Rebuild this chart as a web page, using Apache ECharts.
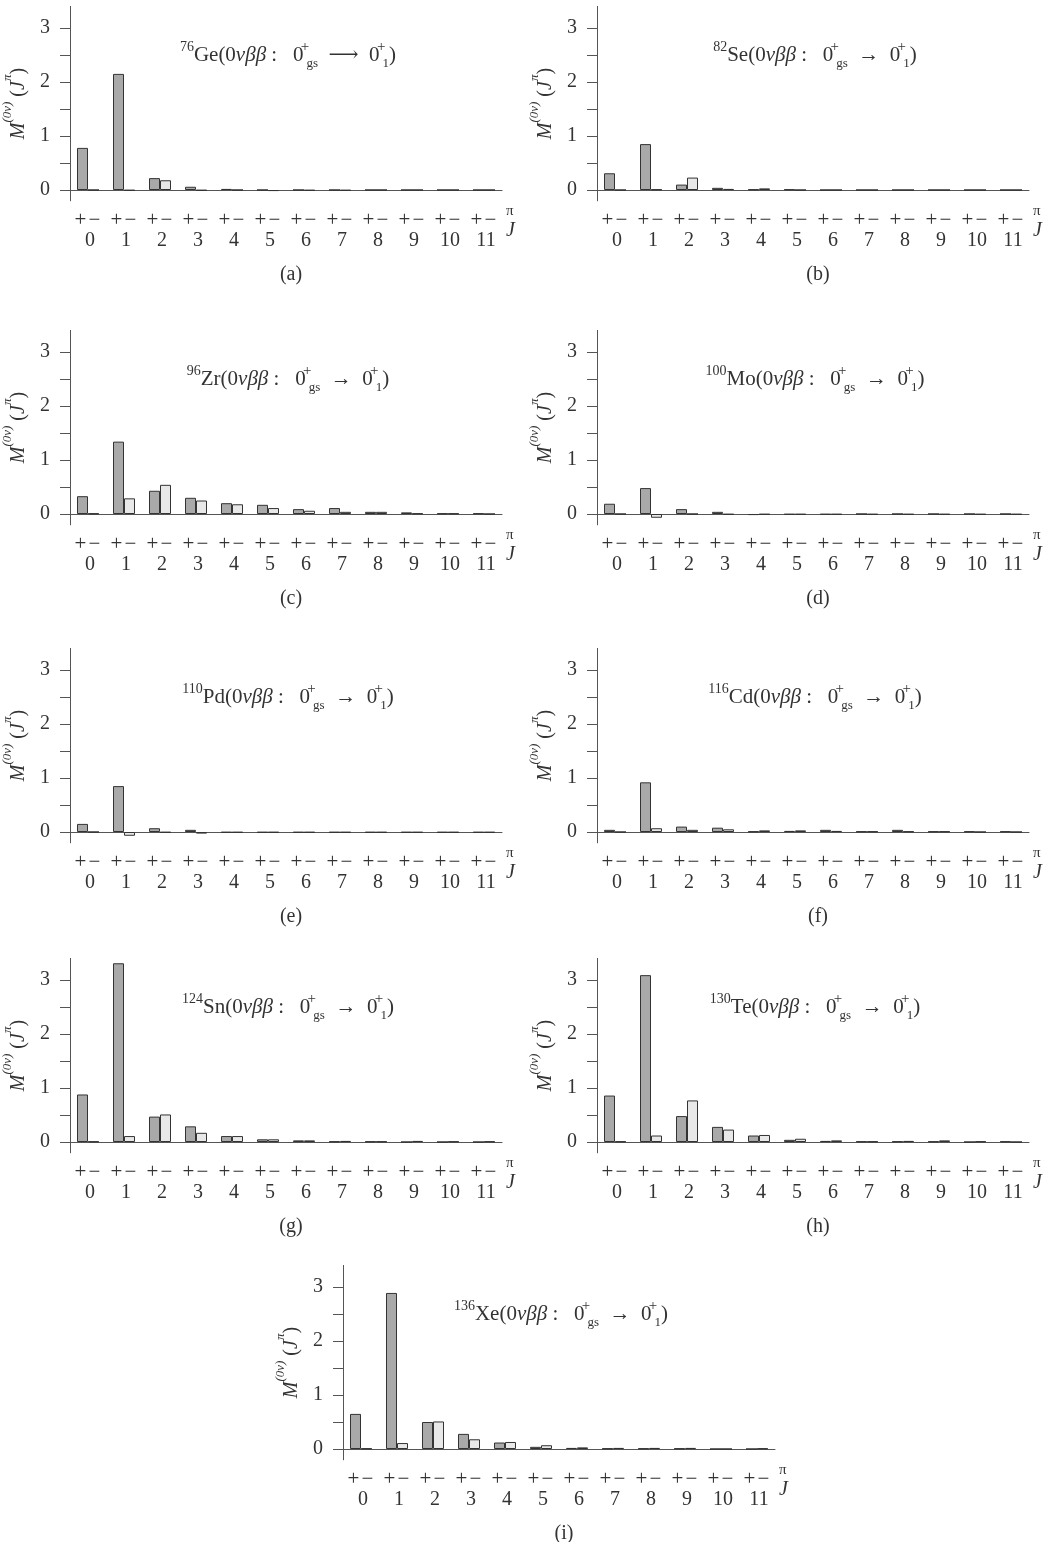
<!DOCTYPE html>
<html>
<head>
<meta charset="utf-8">
<script src="https://cdn.jsdelivr.net/npm/echarts@6/dist/echarts.min.js"></script>
<style>
  html, body { margin: 0; padding: 0; background: #fff; }
  #chart { width: 1057px; height: 1542px; }
</style>
</head>
<body>
<div id="chart"></div>
<script>
// multipolarity J and the two parities
const jValues = ['0', '1', '2', '3', '4', '5', '6', '7', '8', '9', '10', '11'];
const yTicks = [0, 0.5, 1, 1.5, 2, 2.5, 3];
const yLabels = [0, 1, 2, 3];

// M^(0v)(J^pi), positive parity / negative parity
const ge76Plus  = [0.78, 2.15, 0.22, 0.06, 0.02, 0.00, 0.00, 0.00, 0.00, 0.00, 0.00, 0.00];
const ge76Minus = [0.00, -0.01, 0.18, -0.01, 0.00, -0.02, -0.01, -0.01, 0.00, 0.00, 0.00, 0.00];
const se82Plus  = [0.31, 0.85, 0.10, 0.04, 0.01, 0.01, 0.00, 0.00, 0.00, 0.00, 0.00, 0.00];
const se82Minus = [0.00, 0.01, 0.23, 0.02, 0.03, 0.00, 0.00, 0.00, 0.00, 0.00, 0.00, 0.00];
const zr96Plus  = [0.33, 1.34, 0.43, 0.30, 0.20, 0.17, 0.09, 0.11, 0.04, 0.03, 0.01, 0.01];
const zr96Minus = [0.01, 0.29, 0.54, 0.25, 0.18, 0.11, 0.06, 0.04, 0.04, 0.01, 0.01, 0.00];
const mo100Plus  = [0.19, 0.48, 0.09, 0.04, -0.02, -0.01, -0.01, 0.00, 0.00, 0.00, 0.00, 0.00];
const mo100Minus = [0.00, -0.07, 0.00, -0.01, -0.01, -0.01, -0.01, -0.01, -0.01, -0.01, -0.01, -0.01];
const pd110Plus  = [0.15, 0.85, 0.07, 0.04, -0.01, -0.01, -0.01, -0.01, -0.01, -0.01, -0.01, -0.01];
const pd110Minus = [0.00, -0.07, -0.01, -0.03, -0.01, -0.01, -0.01, -0.01, -0.01, -0.01, -0.01, -0.01];
const cd116Plus  = [0.04, 0.92, 0.10, 0.08, 0.01, 0.02, 0.04, 0.01, 0.04, 0.01, 0.01, 0.01];
const cd116Minus = [0.00, 0.07, 0.04, 0.05, 0.03, 0.03, 0.02, 0.01, 0.01, 0.01, 0.00, 0.00];
const sn124Plus  = [0.88, 3.31, 0.47, 0.29, 0.11, 0.05, 0.03, 0.01, 0.01, 0.00, 0.00, 0.00];
const sn124Minus = [0.01, 0.11, 0.51, 0.17, 0.11, 0.05, 0.03, 0.02, 0.01, 0.02, 0.01, 0.01];
const te130Plus  = [0.86, 3.09, 0.48, 0.28, 0.12, 0.04, 0.02, 0.01, 0.01, 0.01, 0.00, 0.01];
const te130Minus = [0.01, 0.12, 0.77, 0.23, 0.13, 0.06, 0.03, 0.01, 0.02, 0.03, 0.01, 0.00];
const xe136Plus  = [0.65, 2.89, 0.50, 0.28, 0.12, 0.04, 0.02, 0.01, 0.01, 0.01, 0.00, 0.00];
const xe136Minus = [0.01, 0.11, 0.51, 0.18, 0.13, 0.07, 0.03, 0.02, 0.02, 0.02, 0.00, 0.01];

const panels = [
  { mass: '76',  el: 'Ge', arrow: '\u27F6', tag: '(a)', plus: ge76Plus,  minus: ge76Minus },
  { mass: '82',  el: 'Se', arrow: '\u2192', tag: '(b)', plus: se82Plus,  minus: se82Minus },
  { mass: '96',  el: 'Zr', arrow: '\u2192', tag: '(c)', plus: zr96Plus,  minus: zr96Minus },
  { mass: '100', el: 'Mo', arrow: '\u2192', tag: '(d)', plus: mo100Plus, minus: mo100Minus },
  { mass: '110', el: 'Pd', arrow: '\u2192', tag: '(e)', plus: pd110Plus, minus: pd110Minus },
  { mass: '116', el: 'Cd', arrow: '\u2192', tag: '(f)', plus: cd116Plus, minus: cd116Minus },
  { mass: '124', el: 'Sn', arrow: '\u2192', tag: '(g)', plus: sn124Plus, minus: sn124Minus },
  { mass: '130', el: 'Te', arrow: '\u2192', tag: '(h)', plus: te130Plus, minus: te130Minus },
  { mass: '136', el: 'Xe', arrow: '\u2192', tag: '(i)', plus: xe136Plus, minus: xe136Minus }
];

// where each panel sits on the page (left edge of the plot, pixel row of y = 0)
const layout = [
  { left: 70,  zero: 190 },  { left: 597, zero: 190 },
  { left: 70,  zero: 514 },  { left: 597, zero: 514 },
  { left: 70,  zero: 832 },  { left: 597, zero: 832 },
  { left: 70,  zero: 1142 }, { left: 597, zero: 1142 },
  { left: 343, zero: 1449 }
];

const UNIT = 54, YMAX = 3.4, YMIN = -0.2, W = 432;
const FONT = '"Liberation Serif", "DejaVu Serif", serif';
const INK = '#333';

const chart = echarts.init(document.getElementById('chart'));

const grids = [], xAxes = [], yAxes = [], series = [], titles = [];

function txt(size, extra) {
  return Object.assign({ fontFamily: FONT, fontSize: size, fontWeight: 'normal', color: INK }, extra || {});
}

panels.forEach((p, i) => {
  const L = layout[i];
  const top = L.zero - YMAX * UNIT;
  const cx = L.left + W / 2;
  grids.push({
    left: L.left, top: top, width: W, height: (YMAX - YMIN) * UNIT,
    containLabel: false, outerBoundsMode: 'none'
  });

  xAxes.push({
    gridIndex: i,
    type: 'category',
    data: jValues,
    axisLine: { onZero: true, lineStyle: { color: '#555', width: 1 } },
    axisTick: { show: false },
    axisLabel: {
      interval: 0,
      margin: 10,
      formatter: v => '{pl|+}{mi|\u2212}\n{j|' + v + '}',
      rich: {
        pl: txt(21, { lineHeight: 20 }),
        mi: txt(21, { lineHeight: 20, padding: [0, 0, 0, 1], width: 14 }),
        j: txt(20, { lineHeight: 20, padding: [0, 0, 0, 4] })
      }
    },
    name: '{p|\u03C0}\n{j|J}',
    nameLocation: 'end',
    nameGap: 4,
    nameTextStyle: {
      padding: [64, 0, 0, 0],
      rich: {
        p: txt(15, { lineHeight: 18 }),
        j: txt(20, { fontStyle: 'italic', lineHeight: 22 })
      }
    }
  });

  yAxes.push({
    gridIndex: i,
    type: 'value',
    min: YMIN,
    max: YMAX,
    splitLine: { show: false },
    axisLine: { show: true, lineStyle: { color: '#555', width: 1 } },
    axisTick: { show: true, length: 10, customValues: yTicks, lineStyle: { color: '#555' } },
    axisLabel: Object.assign({ customValues: yLabels, margin: 20 }, txt(20)),
    name: '{m|M}{s|(0\u03BD)}{p| (}{m|J}{s|\u03C0}{p|)}',
    nameLocation: 'middle',
    nameRotate: 90,
    nameGap: 41,
    nameTextStyle: {
      rich: {
        m: txt(20, { fontStyle: 'italic', verticalAlign: 'bottom', lineHeight: 28 }),
        s: txt(13, { fontStyle: 'italic', verticalAlign: 'top', lineHeight: 16 }),
        p: txt(20, { verticalAlign: 'bottom', lineHeight: 28 })
      }
    }
  });

  series.push({
    type: 'bar', name: '+', xAxisIndex: i, yAxisIndex: i,
    data: p.plus, barWidth: 11, barGap: '0%',
    itemStyle: { color: '#a9a9a9', borderColor: '#333', borderWidth: 1 },
    silent: true
  });
  series.push({
    type: 'bar', name: '\u2212', xAxisIndex: i, yAxisIndex: i,
    data: p.minus, barWidth: 11, barGap: '0%',
    itemStyle: { color: '#e8e8e8', borderColor: '#333', borderWidth: 1 },
    silent: true
  });

  titles.push({
    text: '{sup|' + p.mass + '}{t|' + p.el + '(0}{i|\u03BD\u03B2\u03B2}{t| :   0}{sp|+}{sb|gs}{t|  ' + p.arrow + '  0}{sp|+}{sb|1}{t|)}',
    left: cx - 3, top: L.zero - 155, textAlign: 'center',
    textStyle: {
      fontWeight: 'normal',
      rich: {
        t: txt(21, { lineHeight: 30, verticalAlign: 'middle' }),
        i: txt(21, { fontStyle: 'italic', lineHeight: 30, verticalAlign: 'middle' }),
        sup: txt(14, { lineHeight: 16, verticalAlign: 'top' }),
        sp: txt(15, { lineHeight: 16, verticalAlign: 'top', width: 1, align: 'left', padding: [0, 0, 0, 1] }),
        sb: txt(13, { lineHeight: 12, verticalAlign: 'bottom', padding: [0, 0, 0, 1] })
      }
    }
  });
  titles.push({
    text: p.tag,
    left: cx, top: L.zero + 70, textAlign: 'center',
    textStyle: txt(20)
  });
});

chart.setOption({
  backgroundColor: '#fff',
  animation: false,
  title: titles,
  grid: grids,
  xAxis: xAxes,
  yAxis: yAxes,
  series: series
});
</script>
</body>
</html>
